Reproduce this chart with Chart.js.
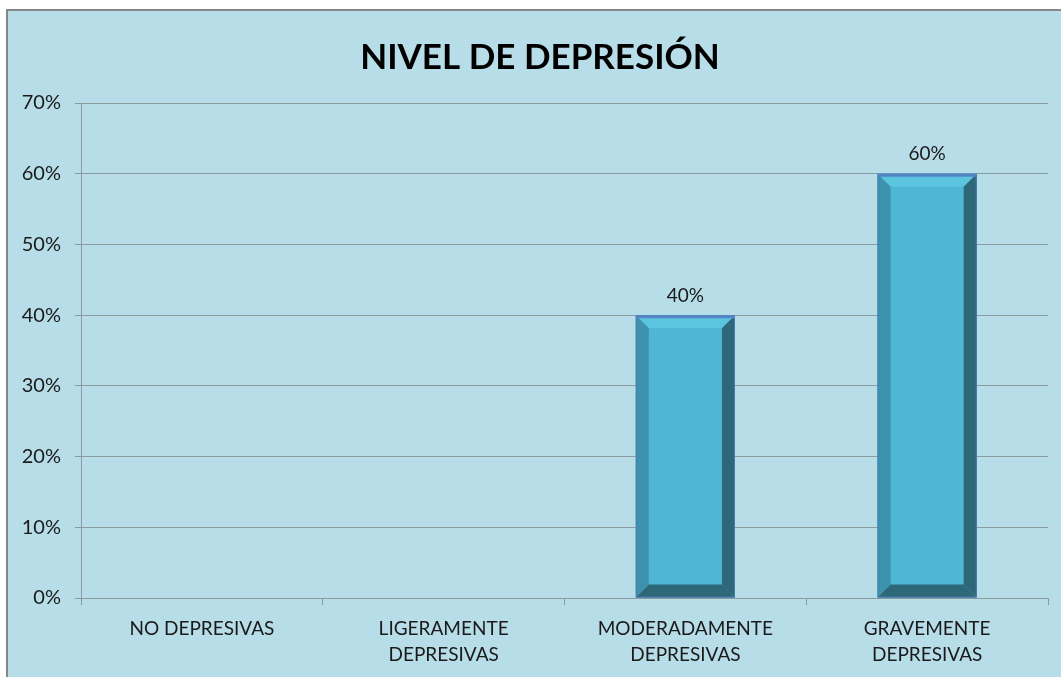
<!DOCTYPE html>
<html>
<head>
<meta charset="utf-8">
<script src="https://cdn.jsdelivr.net/npm/chart.js@4"></script>
<style>
  html, body { margin: 0; padding: 0; background: #fff; overflow: hidden; }
  #frame {
    position: absolute; left: 6px; top: 9px;
    width: 1070px; height: 675px;
    background: #b7dde8;
    border-left: 2px solid #868686;
    border-top: 2px solid #868686;
  }
  #wrap { position: absolute; left: 0; top: 0; width: 1064px; height: 666px; }
</style>
</head>
<body>
<div id="frame"><div id="wrap"><canvas id="chart"></canvas></div></div>
<script>
// chart data
const categories = [
    ['NO DEPRESIVAS'],
    ['LIGERAMENTE', 'DEPRESIVAS'],
    ['MODERADAMENTE', 'DEPRESIVAS'],
    ['GRAVEMENTE', 'DEPRESIVAS']
];
const values = [0, 0, 0.40, 0.60];
const yTicks = [0, 0.1, 0.2, 0.3, 0.4, 0.5, 0.6, 0.7];

const pct = v => Math.round(v * 100) + '%';

// draws the bevelled look and the value label of each bar
const bevelBars = {
    id: 'bevelBars',
    afterDatasetsDraw(chart) {
        const ctx = chart.ctx;
        const meta = chart.getDatasetMeta(0);
        meta.data.forEach((bar, i) => {
            const v = values[i];
            if (!v) return;
            const left = bar.x - bar.width / 2;
            const right = bar.x + bar.width / 2;
            const top = bar.y;
            const bottom = bar.base;
            const b = 13;
            ctx.save();
            const poly = (pts, color) => {
                ctx.beginPath();
                ctx.moveTo(pts[0][0], pts[0][1]);
                for (let k = 1; k < pts.length; k++) ctx.lineTo(pts[k][0], pts[k][1]);
                ctx.closePath();
                ctx.fillStyle = color;
                ctx.fill();
            };
            // top
            poly([[left, top], [right, top], [right - b, top + b], [left + b, top + b]], '#5bc4df');
            // left
            poly([[left, top], [left + b, top + b], [left + b, bottom - b], [left, bottom]], '#3d93ad');
            // right
            poly([[right, top], [right, bottom], [right - b, bottom - b], [right - b, top + b]], '#2e6777');
            // bottom
            poly([[left, bottom], [left + b, bottom - b], [right - b, bottom - b], [right, bottom]], '#2d6878');
            // outline
            ctx.strokeStyle = '#4a79b0';
            ctx.lineWidth = 1;
            ctx.strokeRect(left + 0.5, top + 0.5, bar.width - 1, bottom - top - 1);
            ctx.beginPath();
            ctx.moveTo(left, top + 1.5);
            ctx.lineTo(right, top + 1.5);
            ctx.lineWidth = 3;
            ctx.strokeStyle = '#5486c4';
            ctx.stroke();
            // value label
            ctx.fillStyle = '#1a1a1a';
            ctx.font = '19px Lato';
            ctx.textAlign = 'center';
            ctx.textBaseline = 'bottom';
            ctx.fillText(pct(v), bar.x, top - 10);
            ctx.restore();
        });
    }
};

new Chart(document.getElementById('chart'), {
    type: 'bar',
    data: {
        labels: categories,
        datasets: [{
            data: values,
            backgroundColor: '#4fb7d5',
            borderWidth: 0,
            categoryPercentage: 1,
            barPercentage: 0.41
        }]
    },
    options: {
        responsive: true,
        maintainAspectRatio: false,
        animation: false,
        layout: { padding: 0 },
        plugins: {
            legend: { display: false },
            tooltip: { enabled: false },
            title: {
                display: true,
                text: 'NIVEL DE DEPRESIÓN',
                color: '#000',
                font: { family: 'Lato', size: 35, weight: 'bold', lineHeight: 1.2 },
                padding: { top: 26, bottom: 24 }
            }
        },
        scales: {
            x: {
                grid: {
                    offset: true,
                    drawOnChartArea: false,
                    drawTicks: true,
                    tickLength: 7,
                    color: '#8a9a9f'
                },
                border: { color: '#8a9a9f', width: 1 },
                ticks: {
                    color: '#1a1a1a',
                    font: { family: 'Lato', size: 19, lineHeight: 1.35 },
                    padding: 11,
                    maxRotation: 0
                },
                afterFit(scale) { scale.height = 79; }
            },
            y: {
                min: 0,
                max: 0.7,
                afterBuildTicks(scale) { scale.ticks = yTicks.map(v => ({ value: v })); },
                grid: { color: '#8a9a9f', tickLength: 6 },
                border: { color: '#8a9a9f', width: 1 },
                ticks: {
                    color: '#1a1a1a',
                    font: { family: 'Lato', size: 20 },
                    padding: 14,
                    callback: v => pct(v)
                },
                afterFit(scale) { scale.width = 73; }
            },
            // empty right-hand margin so the title centres like the original
            yRight: {
                position: 'right',
                min: 0,
                max: 0.7,
                grid: { display: false },
                border: { display: false },
                ticks: { display: false },
                afterFit(scale) { scale.width = 24; }
            }
        }
    },
    plugins: [bevelBars]
});
</script>
</body>
</html>
